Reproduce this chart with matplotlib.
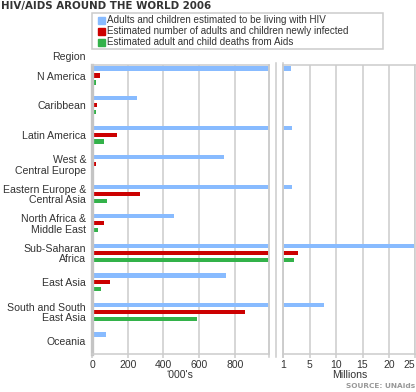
import numpy as np
import matplotlib
matplotlib.use("Agg")
from matplotlib import pyplot as plt
from matplotlib.patches import Rectangle
from matplotlib.lines import Line2D

# Data (thousands of people), UNAids 2006
regions = ["N America", "Caribbean", "Latin America", "West &\nCentral Europe",
           "Eastern Europe &\nCentral Asia", "North Africa &\nMiddle East",
           "Sub-Saharan\nAfrica", "East Asia", "South and South\nEast Asia", "Oceania"]
living = [1400, 250, 1700, 740, 1700, 460, 24700, 750, 7800, 81]
new_infected = [43, 27, 140, 22, 270, 68, 2800, 100, 860, 10]
deaths = [20, 20, 65, 14, 84, 36, 2100, 48, 590, 8]

series_labels = ["Adults and children estimated to be living with HIV",
                 "Estimated number of adults and children newly infected",
                 "Estimated adult and child deaths from Aids"]
colors = ["#88bbff", "#cc0000", "#33b24a"]
left_ticks = [0, 200, 400, 600, 800]
right_ticks = [0, 5, 10, 15, 20, 25]
right_ticklabels = ["1", "5", "10", "15", "20", "25"]

plt.rcParams['font.family'] = ['Liberation Sans', 'DejaVu Sans']
W, H = 416, 392
fig = plt.figure(figsize=(W / 100, H / 100), dpi=100)

def fx(px):
    return px / W

def fy(py):
    return 1 - py / H

top, bottom = 65.3, 354
axl = fig.add_axes([fx(92), fy(bottom), fx(269.3 - 92), (bottom - top) / H])
axr = fig.add_axes([fx(283.3), fy(bottom), fx(415.3 - 283.3), (bottom - top) / H])

y = np.arange(len(regions))
off, h = 0.237, 0.15
all_series = [np.array(living), np.array(new_infected), np.array(deaths)]

for i, (vals, c) in enumerate(zip(all_series, colors)):
    pos = y + (i - 1) * off
    axl.barh(pos, vals, height=h, color=c, zorder=2)
    big = np.where(vals > 1000, vals / 1000.0, 0)
    axr.barh(pos, big, height=h, color=c, zorder=2)

grid_c = "#cccccc"
txt_c = "#333333"
for ax in (axl, axr):
    ax.set_ylim(9.43, -0.352)
    ax.set_axisbelow(True)
    ax.grid(axis="x", color=grid_c, lw=1.1)
    for s in ax.spines.values():
        s.set_color(grid_c)
        s.set_linewidth(1.1)
    ax.tick_params(axis="x", length=3, width=1.1, color=grid_c, labelsize=7.5,
                   labelcolor=txt_c, pad=1.5)

axl.set_xlim(0, 994)
axl.set_xticks(left_ticks)
axl.spines["left"].set_color("#c4c4c4")
axl.spines["left"].set_linewidth(2.4)
axl.set_yticks(y)
axl.set_yticklabels(regions, fontsize=7.6, color=txt_c, linespacing=1.05)
axl.tick_params(axis="y", length=0, pad=4.3)

axr.set_xlim(0, 25)
axr.set_xticks(right_ticks)
axr.set_xticklabels(right_ticklabels)
axr.get_xticklabels()[-1].set_horizontalalignment("right")
axr.set_yticks([])

# break marks between panels
for xp, y0 in [(269.3, 65.3), (276, 63), (283.3, 63)]:
    fig.add_artist(Line2D([fx(xp), fx(xp)], [fy(y0), fy(357)], color=grid_c, lw=1.1,
                          transform=fig.transFigure))

# title and labels
fig.text(fx(1), fy(5.5), "HIV/AIDS AROUND THE WORLD 2006", family="DejaVu Sans",
         fontweight="bold", fontsize=7.4, color=txt_c, va="center")
fig.text(fx(86), fy(57), "Region", fontsize=7.6, color=txt_c, ha="right", va="center")
fig.text(fx(180), fy(375), "\u2018000's", fontsize=7.6, color=txt_c, ha="center", va="center")
fig.text(fx(350), fy(375), "Millions", fontsize=7.6, color=txt_c, ha="center", va="center")
fig.text(fx(415), fy(386.5), "SOURCE: UNAids", family="DejaVu Sans", fontweight="bold",
         fontsize=5.3, color="#999999", ha="right", va="center")

# legend
fig.add_artist(Rectangle((fx(91.7), fy(49.3)), fx(383.3 - 91.7), (49.3 - 13.3) / H,
                         fill=False, ec=grid_c, lw=1.1, transform=fig.transFigure))
for k, (lab, c) in enumerate(zip(series_labels, colors)):
    yc = 20.3 + 11 * k
    fig.add_artist(Rectangle((fx(98), fy(yc + 3.5)), fx(7), 7 / H, color=c,
                             transform=fig.transFigure))
    fig.text(fx(107), fy(yc), lab, fontsize=7.1, color=txt_c, va="center")

fig.savefig("out.png", dpi=100)
